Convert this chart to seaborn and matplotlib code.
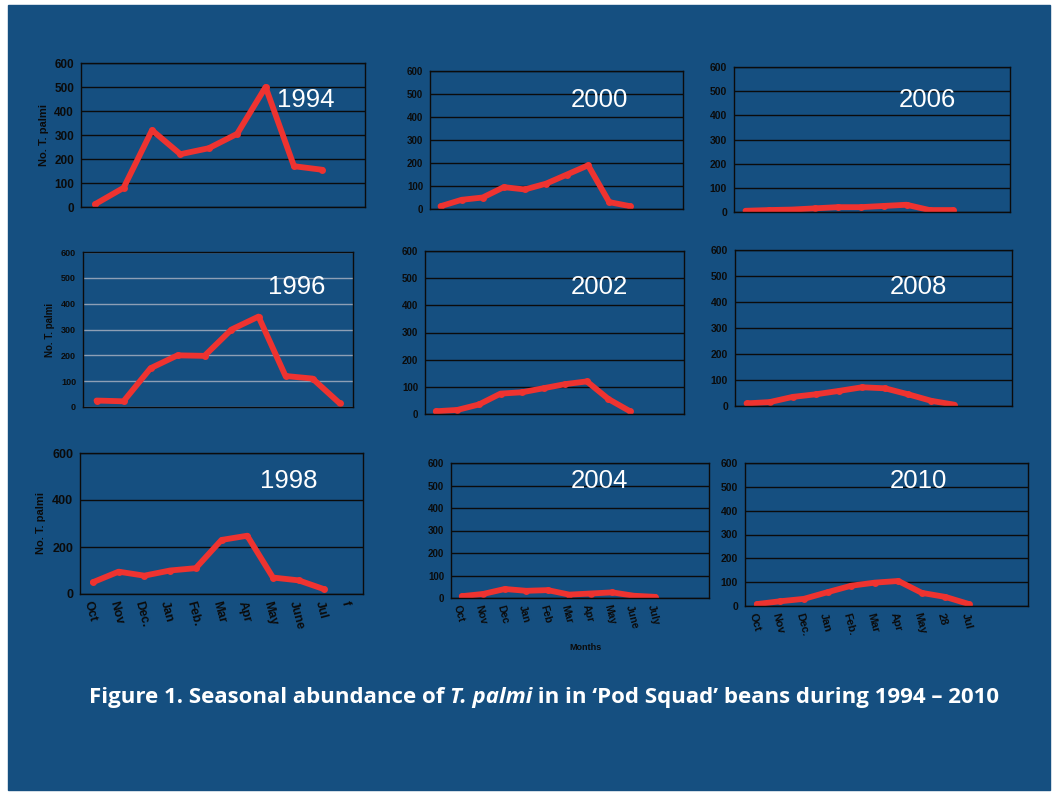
import matplotlib
matplotlib.use("Agg")
import matplotlib.pyplot as plt
import seaborn as sns
import pandas as pd

# counts of T. palmi per month
y1994 = [12, 80, 320, 220, 245, 305, 500, 170, 155]
y1996 = [25, 22, 150, 200, 198, 300, 350, 120, 110, 15]
y1998 = [50, 95, 78, 100, 110, 230, 248, 70, 58, 20]
y2000 = [12, 40, 50, 95, 85, 110, 150, 190, 30, 12]
y2002 = [10, 15, 35, 75, 80, 95, 110, 120, 55, 10]
y2004 = [8, 18, 40, 32, 35, 15, 20, 25, 10, 5]
y2006 = [5, 8, 10, 15, 20, 20, 25, 30, 8, 8]
y2008 = [10, 15, 35, 45, 58, 72, 68, 45, 20, 5]
y2010 = [8, 20, 30, 58, 85, 98, 105, 55, 38, 8]

months_1998 = ["Oct", "Nov", "Dec.", "Jan", "Feb.", "Mar", "Apr", "May", "June", "Jul", "f"]
months_2004 = ["Oct", "Nov", "Dec", "Jan", "Feb", "Mar", "Apr", "May", "June", "July", "", ""]
months_2010 = ["Oct", "Nov", "Dec.", "Jan", "Feb.", "Mar", "Apr", "May", "28", "Jul", "", ""]

BG = "#154f80"
RED = "#ee3330"
INK = "#0b0b0b"

sns.set_style("white", {"axes.facecolor": BG, "figure.facecolor": "white"})
plt.rcParams["font.family"] = ["Liberation Sans", "DejaVu Sans"]

W, H = 1058, 795
fig = plt.figure(figsize=(W / 100, H / 100), dpi=100)
fig.patches.append(plt.Rectangle((8 / W, 1 - 790 / H), 1042 / W, 785 / H,
                                 transform=fig.transFigure, color=BG, zorder=-10))


def box(x0, y0, x1, y1):
    return [x0 / W, 1 - y1 / H, (x1 - x0) / W, (y1 - y0) / H]


# (values, n categories, year, axes box, year label pos, yticks, tick size, month size, grid colour, labels, ylabel)
panels = [
    (y1994, 10, "1994", box(81, 63, 365, 207), (306, 100), range(0, 601, 100), 8.5, 0, INK, None, True),
    (y1996, 10, "1996", box(83, 252, 353, 407), (297, 287), range(0, 601, 100), 6.5, 0, "#8d9fb5", None, True),
    (y1998, 11, "1998", box(80, 453, 363, 594), (289, 481), range(0, 601, 200), 9, 9, INK, months_1998, True),
    (y2000, 12, "2000", box(430, 71, 683, 209), (599, 100), range(0, 601, 100), 7, 0, INK, None, False),
    (y2002, 12, "2002", box(425, 251, 684, 414), (599, 287), range(0, 601, 100), 7, 0, INK, None, False),
    (y2004, 12, "2004", box(451, 463, 709, 598), (599, 481), range(0, 601, 100), 7, 7.5, INK, months_2004, False),
    (y2006, 12, "2006", box(734, 67, 1010, 212), (927, 100), range(0, 601, 100), 7.5, 0, INK, None, False),
    (y2008, 12, "2008", box(735, 250, 1012, 406), (918, 287), range(0, 601, 100), 7.5, 0, INK, None, False),
    (y2010, 12, "2010", box(745, 463, 1028, 606), (918, 481), range(0, 601, 100), 7.5, 8, INK, months_2010, False),
]

for vals, n, year, rect, lab, yt, fs, mfs, gcol, mlabels, ylab in panels:
    ax = fig.add_axes(rect)
    df = pd.DataFrame({"pos": list(range(len(vals))), "count": vals})
    sns.lineplot(data=df, x="pos", y="count", ax=ax, color=RED, linewidth=4.2,
                 marker="o", markersize=5, markeredgewidth=0)
    ax.set_xlim(-0.5, n - 0.5)
    ax.set_ylim(0, 600)
    ax.set_yticks(list(yt))
    ax.yaxis.grid(True, color=gcol, linewidth=1)
    ax.set_axisbelow(True)
    for s in ax.spines.values():
        s.set_color(INK)
        s.set_linewidth(1)
    ax.set_xticks([i - 0.5 for i in range(n + 1)], minor=True)
    ax.tick_params(axis="x", which="minor", length=4, color=INK, width=1)
    ax.tick_params(axis="y", which="major", length=3, color=INK, width=1, pad=2,
                   labelsize=fs, labelcolor=INK)
    for t in ax.get_yticklabels():
        t.set_fontweight("bold")
    if mlabels:
        ax.set_xticks(range(n))
        ax.set_xticklabels(mlabels, rotation=-75, ha="left", va="top",
                           fontsize=mfs, fontweight="bold", color=INK,
                           rotation_mode="anchor")
        ax.tick_params(axis="x", which="major", length=0, pad=4)
    else:
        ax.set_xticks([])
    ax.set_xlabel("")
    if ylab:
        ax.set_ylabel("No. T. palmi", fontsize=7 if fs < 8 else 8, fontweight="bold",
                      color=INK, labelpad=4)
    else:
        ax.set_ylabel("")
    fig.text(lab[0] / W, 1 - lab[1] / H, year, color="white", fontsize=18.5,
             ha="center", va="center")

fig.text(585 / W, 1 - 648 / H, "Months", fontsize=6.5, fontweight="bold", color=INK,
         ha="center", va="center")

# caption with italic species name
fig.canvas.draw()
rend = fig.canvas.get_renderer()
parts = [("Figure 1. Seasonal abundance of ", "normal"), ("T. palmi", "italic"),
         (" in in \u2018Pod Squad\u2019 beans during 1994 \u2013 2010", "normal")]
texts = []
x = 0
for s, style in parts:
    t = fig.text(x, 1 - 697 / H, s, fontsize=16, fontweight="bold", style=style,
                 color="white", ha="left", va="center", family=["Open Sans", "DejaVu Sans"])
    texts.append(t)
    x += t.get_window_extent(rend).width / W
total = x
x = 544 / W - total / 2
for t in texts:
    t.set_x(x)
    x += t.get_window_extent(rend).width / W

fig.savefig("out.png", dpi=100)
